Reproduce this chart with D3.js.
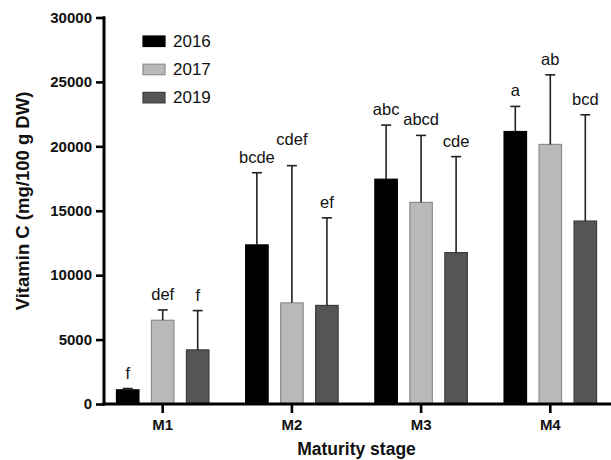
<!DOCTYPE html>
<html>
<head>
<meta charset="utf-8">
<script src="https://cdn.jsdelivr.net/npm/d3@7/dist/d3.min.js"></script>
<style>
  html, body { margin: 0; padding: 0; background: #fff; }
  svg { display: block; font-family: "Liberation Sans", Arial, sans-serif; }
</style>
</head>
<body>
<svg id="chart" width="611" height="460"></svg>
<script>
// Maturity stages and sampling years
const stages = ["M1", "M2", "M3", "M4"];
const years = ["2016", "2017", "2019"];

// Mean vitamin C content (mg/100 g DW) per year, in stage order
const values2016 = [1100, 12350, 17450, 21150];
const values2017 = [6500, 7850, 15650, 20150];
const values2019 = [4200, 7650, 11750, 14200];

// Upper end of each error bar (mean + SD)
const errTop2016 = [1200, 17950, 21650, 23100];
const errTop2017 = [7300, 18500, 20850, 25550];
const errTop2019 = [7250, 14450, 19200, 22450];

// Significance letters
const letters2016 = ["f", "bcde", "abc", "a"];
const letters2017 = ["def", "cdef", "abcd", "ab"];
const letters2019 = ["f", "ef", "cde", "bcd"];

const yTicks = [0, 5000, 10000, 15000, 20000, 25000, 30000];

const series = [
  { year: "2016", values: values2016, err: errTop2016, letters: letters2016 },
  { year: "2017", values: values2017, err: errTop2017, letters: letters2017 },
  { year: "2019", values: values2019, err: errTop2019, letters: letters2019 }
];

const fill = d3.scaleOrdinal().domain(years).range(["#000000", "#b9b9b9", "#555555"]);
const edge = d3.scaleOrdinal().domain(years).range(["#000000", "#8c8c8c", "#3c3c3c"]);

const svg = d3.select("#chart");

const y = d3.scaleLinear().domain([0, 30000]).range([404, 17.5]);
const x0 = d3.scaleBand().domain(stages).range([98.1, 614.9]);
const x1 = d3.scaleBand().domain(years).range([0, x0.bandwidth()])
  .paddingInner(0.329).paddingOuter(0.51);

const rows = [];
series.forEach(s => stages.forEach((st, i) => rows.push({
  stage: st, year: s.year, value: s.values[i], err: s.err[i], letter: s.letters[i]
})));

// Bars
svg.append("g").selectAll("rect").data(rows).join("rect")
  .attr("x", d => x0(d.stage) + x1(d.year) + 0.5)
  .attr("y", d => y(d.value))
  .attr("width", x1.bandwidth() - 1)
  .attr("height", d => y(0) - y(d.value))
  .attr("fill", d => fill(d.year))
  .attr("stroke", d => edge(d.year))
  .attr("stroke-width", 1.2);

// Error bars (upper half only)
const eb = svg.append("g").attr("stroke", "#222").attr("stroke-width", 1.6).attr("fill", "none");
const cx = d => x0(d.stage) + x1(d.year) + x1.bandwidth() / 2;
eb.selectAll("line.v").data(rows).join("line").attr("class", "v")
  .attr("x1", cx).attr("x2", cx)
  .attr("y1", d => y(d.value)).attr("y2", d => y(d.err));
eb.selectAll("line.c").data(rows).join("line").attr("class", "c")
  .attr("x1", d => cx(d) - 5).attr("x2", d => cx(d) + 5)
  .attr("y1", d => y(d.err)).attr("y2", d => y(d.err));

// Letters above the error bars; a letter that would collide with its
// left-hand neighbour in the same group is lifted one line.
const labels = svg.append("g").selectAll("text").data(rows).join("text")
  .attr("x", cx)
  .attr("y", d => y(d.err) - 10)
  .attr("text-anchor", "middle")
  .attr("font-size", "16.5px")
  .attr("fill", "#111")
  .text(d => d.letter);

const boxes = new Map();
labels.each(function (d) { boxes.set(d, this.getBBox()); });
stages.forEach(st => {
  let prev = null;
  years.forEach(yr => {
    const d = rows.find(r => r.stage === st && r.year === yr);
    const node = labels.filter(r => r === d);
    let b = boxes.get(d);
    if (prev) {
      const pb = boxes.get(prev);
      const hGap = b.x - (pb.x + pb.width);
      const vOverlap = Math.abs(b.y - pb.y) < b.height;
      if (hGap < 3 && vOverlap) {
        const ny = +node.attr("y") - 11;
        node.attr("y", ny);
        b = node.node().getBBox();
        boxes.set(d, b);
      }
    }
    prev = d;
  });
});

// Y axis
const yAxis = svg.append("g").attr("transform", "translate(104,0)")
  .call(d3.axisLeft(y).tickValues(yTicks).tickFormat(d3.format("d")).tickSize(8).tickPadding(4));
yAxis.select(".domain").remove();
yAxis.selectAll(".tick line").attr("stroke", "#000").attr("stroke-width", 2.6);
yAxis.selectAll(".tick text").attr("font-size", "15px").attr("font-weight", "bold")
  .attr("fill", "#111").attr("font-family", "Liberation Sans, Arial, sans-serif");
svg.append("line").attr("x1", 104).attr("x2", 104).attr("y1", 16.2).attr("y2", 405.5)
  .attr("stroke", "#000").attr("stroke-width", 3);

// X axis
const xAxis = svg.append("g").attr("transform", "translate(0,404)")
  .call(d3.axisBottom(x0).tickSize(9).tickPadding(6));
xAxis.select(".domain").remove();
xAxis.selectAll(".tick line").attr("stroke", "#000").attr("stroke-width", 2.6);
xAxis.selectAll(".tick text").attr("font-size", "15px").attr("font-weight", "bold")
  .attr("fill", "#111").attr("font-family", "Liberation Sans, Arial, sans-serif");
svg.append("line").attr("x1", 102.5).attr("x2", 611).attr("y1", 404).attr("y2", 404)
  .attr("stroke", "#000").attr("stroke-width", 3);

// Axis titles
svg.append("text")
  .attr("transform", "translate(28.5,201) rotate(-90)")
  .attr("text-anchor", "middle")
  .attr("font-size", "18.5px").attr("font-weight", "bold").attr("fill", "#111")
  .text("Vitamin C (mg/100 g DW)");
svg.append("text")
  .attr("x", 356.5).attr("y", 455)
  .attr("text-anchor", "middle")
  .attr("font-size", "17.5px").attr("font-weight", "bold").attr("fill", "#111")
  .text("Maturity stage");

// Legend
const legend = svg.append("g").attr("transform", "translate(143,36)");
const li = legend.selectAll("g").data(years).join("g")
  .attr("transform", (d, i) => `translate(0,${i * 28.2})`);
li.append("rect").attr("width", 22).attr("height", 10.5)
  .attr("fill", d => fill(d)).attr("stroke", d => edge(d)).attr("stroke-width", 1.2);
li.append("text").attr("x", 30).attr("y", 10.8)
  .attr("font-size", "17px").attr("fill", "#111")
  .text(d => d);
</script>
</body>
</html>
